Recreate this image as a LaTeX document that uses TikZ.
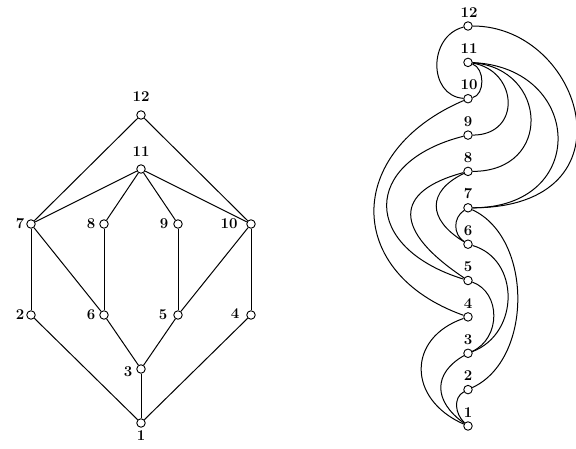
\documentclass[tikz,border=0pt]{standalone}
\begin{document}
\begin{tikzpicture}[x=1pt,y=-1pt,
  v/.style={circle,draw,fill=white,inner sep=0pt,minimum size=8.5pt,line width=0.9pt},
  lbl/.style={font=\fontsize{15}{15}\selectfont\bfseries,inner sep=0pt},
  edge/.style={line width=1pt}]
\useasboundingbox (0,0) rectangle (576,449);
% ---------- left lattice ----------
\node[v] (L12) at (141,115) {};
\node[v] (L11) at (141,169) {};
\node[v] (L7) at (31,224) {};
\node[v] (L8) at (104,224) {};
\node[v] (L9) at (178,224) {};
\node[v] (L10) at (251,224) {};
\node[v] (L2) at (31,315) {};
\node[v] (L6) at (104,315) {};
\node[v] (L5) at (178,315) {};
\node[v] (L4) at (251,315) {};
\node[v] (L3) at (141,369) {};
\node[v] (L1) at (141,423) {};
\node[lbl] (tL12) at (141,97) {12};
\node[lbl] (tL11) at (141,152) {11};
\node[lbl] (tL7) at (20,224) {7};
\node[lbl] (tL8) at (91,224) {8};
\node[lbl] (tL9) at (164,224) {9};
\node[lbl] (tL10) at (229,224) {10};
\node[lbl] (tL2) at (20,315) {2};
\node[lbl] (tL6) at (91,315) {6};
\node[lbl] (tL5) at (163,315) {5};
\node[lbl] (tL4) at (235,314) {4};
\node[lbl] (tL3) at (128,372) {3};
\node[lbl] (tL1) at (141,436) {1};
\foreach \a/\b in {L12/L7,L12/L10,L11/L7,L11/L8,L11/L9,L11/L10,L7/L2,L7/L6,L8/L6,L9/L5,L10/L5,L10/L4,L2/L1,L6/L3,L5/L3,L3/L1,L4/L1}
  \draw[edge] (\a) -- (\b);
% ---------- right book embedding ----------
\node[v] (R12) at (468,26) {};
\node[v] (R11) at (468,62.4) {};
\node[v] (R10) at (468,98.7) {};
\node[v] (R9) at (468,135.1) {};
\node[v] (R8) at (468,171.4) {};
\node[v] (R7) at (468,207.8) {};
\node[v] (R6) at (468,244.2) {};
\node[v] (R5) at (468,280.5) {};
\node[v] (R4) at (468,316.9) {};
\node[v] (R3) at (468,353.3) {};
\node[v] (R2) at (468,389.6) {};
\node[v] (R1) at (468,426) {};
\node[lbl] (tR12) at (469,12.5) {12};
\node[lbl] (tR11) at (469,49) {11};
\node[lbl] (tR10) at (469,85) {10};
\node[lbl] (tR9) at (468,121.5) {9};
\node[lbl] (tR8) at (468,158) {8};
\node[lbl] (tR7) at (468,194) {7};
\node[lbl] (tR6) at (468,231) {6};
\node[lbl] (tR5) at (468,267) {5};
\node[lbl] (tR4) at (468,303.5) {4};
\node[lbl] (tR3) at (468,340) {3};
\node[lbl] (tR2) at (468,376) {2};
\node[lbl] (tR1) at (468,412.5) {1};
% right-side arcs
\draw[edge] (R12) .. controls +(115,0) and +(170,0) .. (R7);
\draw[edge] (R11) .. controls +(115,5) and +(122,0) .. (R7);
\draw[edge] (R11) .. controls +(80,6) and +(85,0) .. (R8);
\draw[edge] (R11) .. controls +(50,8) and +(54,0) .. (R9);
\draw[edge] (R11) .. controls +(17,6) and +(17,-4) .. (R10);
\draw[edge] (R7) .. controls +(65,30) and +(65,-30) .. (R2);
\draw[edge] (R6) .. controls +(52,15) and +(52,-20) .. (R3);
\draw[edge] (R5) .. controls +(33,12) and +(33,-15) .. (R3);
% left-side arcs
\draw[edge] (R12) .. controls +(-40,10) and +(-40,-3) .. (R10);
\draw[edge] (R10) .. controls +(-124,53) and +(-124,-44) .. (R4);
\draw[edge] (R9) .. controls +(-107,27) and +(-107,-33) .. (R5);
\draw[edge] (R8) .. controls +(-75,20) and +(-75,-50) .. (R5);
\draw[edge] (R8) .. controls +(-41,20) and +(-41,-25) .. (R6);
\draw[edge] (R7) .. controls +(-15,10) and +(-15,-10) .. (R6);
\draw[edge] (R4) .. controls +(-61,21) and +(-61,-27) .. (R1);
\draw[edge] (R3) .. controls +(-35,20) and +(-35,-25) .. (R1);
\draw[edge] (R2) .. controls +(-15,8) and +(-13,-12) .. (R1);
\end{tikzpicture}
\end{document}
